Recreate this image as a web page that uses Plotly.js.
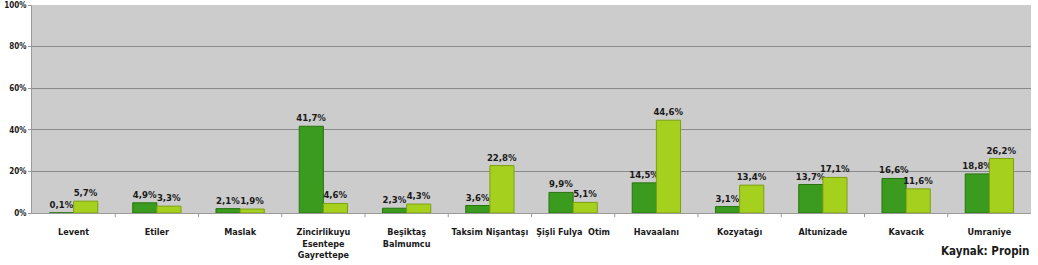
<!DOCTYPE html>
<html><head><meta charset="utf-8">
<script src="https://cdn.plot.ly/plotly-3.0.1.min.js"></script>
<style>html,body{margin:0;padding:0;background:#fff;}#chart{width:1038px;height:265px;}</style>
</head><body><div id="chart"></div>
<script>
const categories = ["Levent","Etiler","Maslak","Zincirlikuyu<br>Esentepe<br>Gayrettepe","Beşiktaş<br>Balmumcu","Taksim Nişantaşı","Şişli Fulya  Otim","Havaalanı","Kozyatağı","Altunizade","Kavacık","Umraniye"];
const series1 = [0.1,4.9,2.1,41.7,2.3,3.6,9.9,14.5,3.1,13.7,16.6,18.8];
const series2 = [5.7,3.3,1.9,4.6,4.3,22.8,5.1,44.6,13.4,17.1,11.6,26.2];
const yTicks = [0,20,40,60,80,100];

const fontFam = "'DejaVu Sans Condensed', 'DejaVu Sans', Arial, sans-serif";
const labelFont = {family: fontFam, size: 9.5, color: "#1a1a1a", weight: 700};

function fmt(v){ return v.toFixed(1).replace('.', ',') + '%'; }

const traces = [
  {type:'bar', x:categories, y:series1, name:'A',
   marker:{color:'#3a9b1f', line:{color:'#2a7410', width:1}},
   text:series1.map(fmt), textposition:'outside', cliponaxis:false, constraintext:'none',
   textfont:labelFont, hoverinfo:'none'},
  {type:'bar', x:categories, y:series2, name:'B',
   marker:{color:'#a6d01e', line:{color:'#7da012', width:1}},
   text:series2.map(fmt), textposition:'outside', cliponaxis:false, constraintext:'none',
   textfont:labelFont, hoverinfo:'none'}
];

const layout = {
  width:1038, height:265,
  margin:{l:32, r:7, t:5, b:52},
  paper_bgcolor:'#ffffff', plot_bgcolor:'#cccccc',
  showlegend:false,
  barmode:'group', bargap:0.42, bargroupgap:0.0,
  xaxis:{
    type:'category', showgrid:false, zeroline:false,
    showline:true, linecolor:'#9a9a9a', linewidth:1,
    ticks:'', tickfont:{family:fontFam, size:9, color:'#1a1a1a', weight:700},
    tickangle:0, ticklabelstandoff:10
  },
  yaxis:{
    range:[0,100], tickvals:yTicks, ticktext:yTicks.map(v=>v+'%'),
    showgrid:true, gridcolor:'#8a8a8a', gridwidth:1,
    zeroline:false, showline:true, linecolor:'#9a9a9a', linewidth:1,
    ticks:'outside', ticklen:3, tickcolor:'#9a9a9a',
    tickfont:{family:fontFam, size:8, color:'#1a1a1a', weight:700}
  },
  shapes: categories.slice(1).map((c,i)=>({type:'line', xref:'x', yref:'paper',
     x0:i+0.5, x1:i+0.5, y0:0, y1:-0.02, line:{color:'#9a9a9a', width:1}})),
  annotations:[{text:'Kaynak: Propin', xref:'paper', yref:'paper', x:1.0, y:-0.14,
    xanchor:'right', yanchor:'top', showarrow:false,
    font:{family:fontFam, size:11.5, color:'#1a1a1a', weight:700}}]
};

Plotly.newPlot('chart', traces, layout, {displayModeBar:false, staticPlot:true});
</script></body></html>
